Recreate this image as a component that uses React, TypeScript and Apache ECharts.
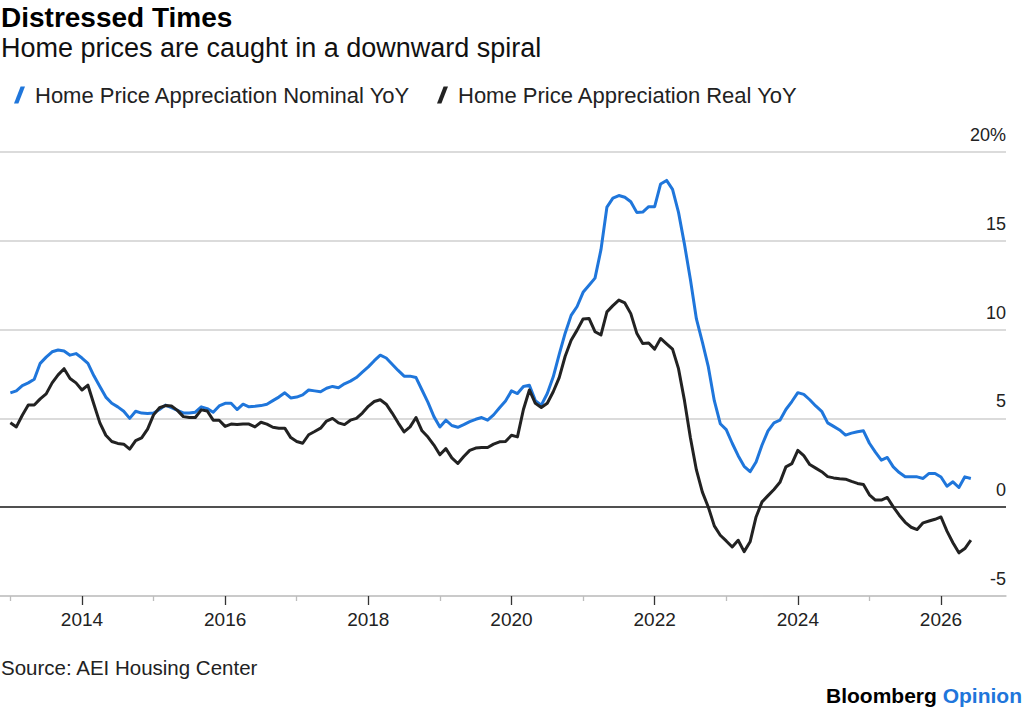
import React, { useEffect, useRef } from "react";
import * as echarts from "echarts";

const FONT = "'Liberation Sans', Arial, Helvetica, sans-serif";

// Monthly data, January 2013 onward
const startYear = 2013;

const nominalYoY = [
  6.44, 6.55, 6.85, 7.0, 7.2, 8.1, 8.45, 8.75, 8.85, 8.8, 8.56, 8.65,
  8.4, 8.1, 7.4, 6.8, 6.2, 5.85, 5.65, 5.4, 5.0, 5.4, 5.3, 5.28,
  5.3, 5.5, 5.75, 5.6, 5.45, 5.31, 5.3, 5.35, 5.65, 5.55, 5.35, 5.7,
  5.85, 5.85, 5.5, 5.8, 5.65, 5.68, 5.72, 5.8, 6.0, 6.2, 6.44, 6.15,
  6.2, 6.32, 6.6, 6.55, 6.5, 6.7, 6.8, 6.73, 6.95, 7.1, 7.3, 7.6,
  7.9, 8.25, 8.56, 8.4, 8.05, 7.7, 7.38, 7.38, 7.3, 6.6, 5.9, 5.1,
  4.52, 4.9, 4.6, 4.5, 4.65, 4.82, 4.95, 5.05, 4.9, 5.2, 5.6, 5.98,
  6.55, 6.4, 6.8, 6.87, 6.0, 5.75, 6.4, 7.34, 8.6, 9.8, 10.8, 11.3,
  12.1, 12.5, 12.9, 14.5, 16.9, 17.4, 17.55, 17.45, 17.2, 16.6, 16.62, 16.92,
  16.92, 18.2, 18.4, 17.9, 16.6, 14.8, 12.8, 10.6, 9.3, 7.9, 6.0, 4.7,
  4.37, 3.6, 2.9, 2.3, 2.0, 2.55, 3.5, 4.3, 4.75, 4.9, 5.5, 5.95,
  6.45, 6.35, 6.05, 5.7, 5.4, 4.75, 4.55, 4.35, 4.06, 4.17, 4.25, 4.3,
  3.6, 3.1, 2.65, 2.8, 2.27, 1.95, 1.71, 1.71, 1.71, 1.62, 1.9, 1.9,
  1.7, 1.18, 1.43, 1.11, 1.71, 1.62,
];

const realYoY = [
  4.75, 4.52, 5.18, 5.75, 5.75, 6.1, 6.38, 7.0, 7.45, 7.8, 7.25, 7.0,
  6.6, 6.87, 5.8, 4.75, 4.05, 3.7, 3.59, 3.55, 3.27, 3.75, 3.9, 4.4,
  5.2, 5.6, 5.72, 5.7, 5.45, 5.1, 5.05, 5.05, 5.48, 5.42, 4.9, 4.9,
  4.55, 4.68, 4.65, 4.68, 4.68, 4.52, 4.78, 4.68, 4.5, 4.45, 4.45, 3.92,
  3.7, 3.6, 4.08, 4.26, 4.45, 4.85, 5.0, 4.75, 4.65, 4.9, 5.0, 5.3,
  5.68, 5.95, 6.05, 5.8, 5.3, 4.75, 4.24, 4.52, 5.05, 4.3, 3.95, 3.5,
  2.95, 3.3, 2.78, 2.46, 2.85, 3.2, 3.33, 3.36, 3.36, 3.55, 3.68, 3.7,
  4.05, 3.96, 5.5, 6.6, 5.85, 5.61, 5.85, 6.5, 7.3, 8.5, 9.4, 9.97,
  10.6, 10.63, 9.88, 9.7, 11.0, 11.35, 11.66, 11.5, 10.9, 9.8, 9.22, 9.25,
  8.9, 9.5, 9.2, 8.9, 7.8, 6.0, 3.9, 2.1, 0.85, 0.0, -1.05, -1.58,
  -1.9, -2.24, -1.86, -2.5, -1.95, -0.55, 0.3, 0.65, 1.0, 1.4, 2.27, 2.45,
  3.2, 2.9, 2.4, 2.2, 2.0, 1.72, 1.65, 1.6, 1.58, 1.45, 1.34, 1.28,
  0.7, 0.4, 0.4, 0.55, 0.02, -0.45, -0.85, -1.13, -1.26, -0.88, -0.78, -0.68,
  -0.55, -1.35, -2.0, -2.57, -2.33, -1.86,
];

const yearLabels = [2014, 2016, 2018, 2020, 2022, 2024, 2026];
const oddYearTicks = [2013, 2015, 2017, 2019, 2021, 2023, 2025];
const xMin = 2012.855;
const xMax = 2026.908;
const yMin = -5;
const yMax = 20;
const yStep = 5;

const nominalName = "Home Price Appreciation Nominal YoY";
const realName = "Home Price Appreciation Real YoY";
const titleText = "Distressed Times";
const subtitleText = "Home prices are caught in a downward spiral";
const sourceText = "Source: AEI Housing Center";

const BLUE = "#1f76db";
const BLACK = "#222222";

// slanted stroke icon
const slashIcon = "path://M0,14 L3.6,14 L9,0 L5.4,0 Z";

const monthX = nominalYoY.map((_, i) => startYear + i / 12);

export default function App() {
  const ref = useRef<HTMLDivElement>(null);

  useEffect(() => {
    if (!ref.current) return;
    const chart = echarts.init(ref.current, null, { renderer: "svg" });
    const legendBase = {
      top: 79,
      itemWidth: 11,
      itemHeight: 18,
      itemGap: 0,
      selectedMode: false,
      textStyle: { fontSize: 22, color: "#222", fontFamily: FONT, padding: [0, 0, 0, 5] },
    };
    chart.setOption({
      animation: false,
      backgroundColor: "#ffffff",
      textStyle: { fontFamily: FONT },
      grid: { left: 0, right: 18, top: 152, bottom: 115, containLabel: false },
      legend: [
        { ...legendBase, left: 9, data: [{ name: nominalName, icon: slashIcon }] },
        { ...legendBase, left: 432, data: [{ name: realName, icon: slashIcon }] },
      ],
      xAxis: [
        {
          type: "value",
          min: xMin,
          max: xMax,
          position: "bottom",
          axisLine: { show: true, onZero: false, lineStyle: { color: "#c4c4c4", width: 1.5 } },
          axisTick: {
            show: true,
            customValues: yearLabels,
            length: 9,
            lineStyle: { color: "#333", width: 1.3 },
          },
          axisLabel: {
            show: true,
            customValues: yearLabels,
            formatter: (v: number) => String(Math.round(v)),
            fontSize: 19,
            color: "#222",
            margin: 14,
            fontFamily: FONT,
          },
          splitLine: { show: false },
        },
        {
          type: "value",
          min: xMin,
          max: xMax,
          position: "bottom",
          axisLine: { show: false, onZero: false },
          axisTick: {
            show: true,
            customValues: oddYearTicks,
            length: 5,
            lineStyle: { color: "#bdbdbd", width: 1.3 },
          },
          axisLabel: { show: false },
          splitLine: { show: false },
        },
      ],
      yAxis: {
        type: "value",
        min: yMin,
        max: yMax,
        interval: yStep,
        position: "right",
        axisLine: { show: false },
        axisTick: { show: false },
        splitLine: { show: true, lineStyle: { color: "#cfcfcf", width: 1.5 } },
        axisLabel: {
          inside: true,
          margin: 0,
          verticalAlign: "bottom",
          padding: [0, 0, 8, 0],
          fontSize: 18,
          color: "#222",
          fontFamily: FONT,
          formatter: (v: number) => (v === yMax ? `${v}%` : String(v)),
        },
      },
      series: [
        {
          name: nominalName,
          type: "line",
          xAxisIndex: 0,
          color: BLUE,
          showSymbol: false,
          symbol: "none",
          lineStyle: { width: 3, color: BLUE, join: "round" },
          data: monthX.map((x, i) => [x, nominalYoY[i]]),
          z: 3,
        },
        {
          name: realName,
          type: "line",
          xAxisIndex: 0,
          color: BLACK,
          showSymbol: false,
          symbol: "none",
          lineStyle: { width: 3, color: BLACK, join: "round" },
          data: monthX.map((x, i) => [x, realYoY[i]]),
          z: 4,
          markLine: {
            silent: true,
            symbol: ["none", "none"],
            label: { show: false },
            lineStyle: { color: "#222", width: 1.5, type: "solid" },
            data: [{ yAxis: 0 }],
          },
        },
      ],
      graphic: [
        {
          type: "text",
          left: 1,
          top: 3,
          style: { text: titleText, font: `bold 28px ${FONT}`, fill: "#000" },
        },
        {
          type: "text",
          left: 1,
          top: 34,
          style: { text: subtitleText, font: `27px ${FONT}`, fill: "#111" },
        },
        {
          type: "text",
          left: 1,
          top: 657,
          style: { text: sourceText, font: `20.5px ${FONT}`, fill: "#222" },
        },
        {
          type: "text",
          right: 2,
          top: 685,
          style: {
            text: "{a|Bloomberg} {b|Opinion}",
            font: `bold 21px ${FONT}`,
            rich: {
              a: { fontFamily: FONT, fontWeight: "bold", fontSize: 21, fill: "#000", color: "#000" },
              b: { fontFamily: FONT, fontWeight: "bold", fontSize: 21, fill: BLUE, color: BLUE },
            },
          },
        },
      ],
    });
    return () => chart.dispose();
  }, []);

  return (
    <div
      ref={ref}
      style={{ position: "absolute", left: 0, top: 0, width: 1024, height: 711, background: "#fff" }}
    />
  );
}
